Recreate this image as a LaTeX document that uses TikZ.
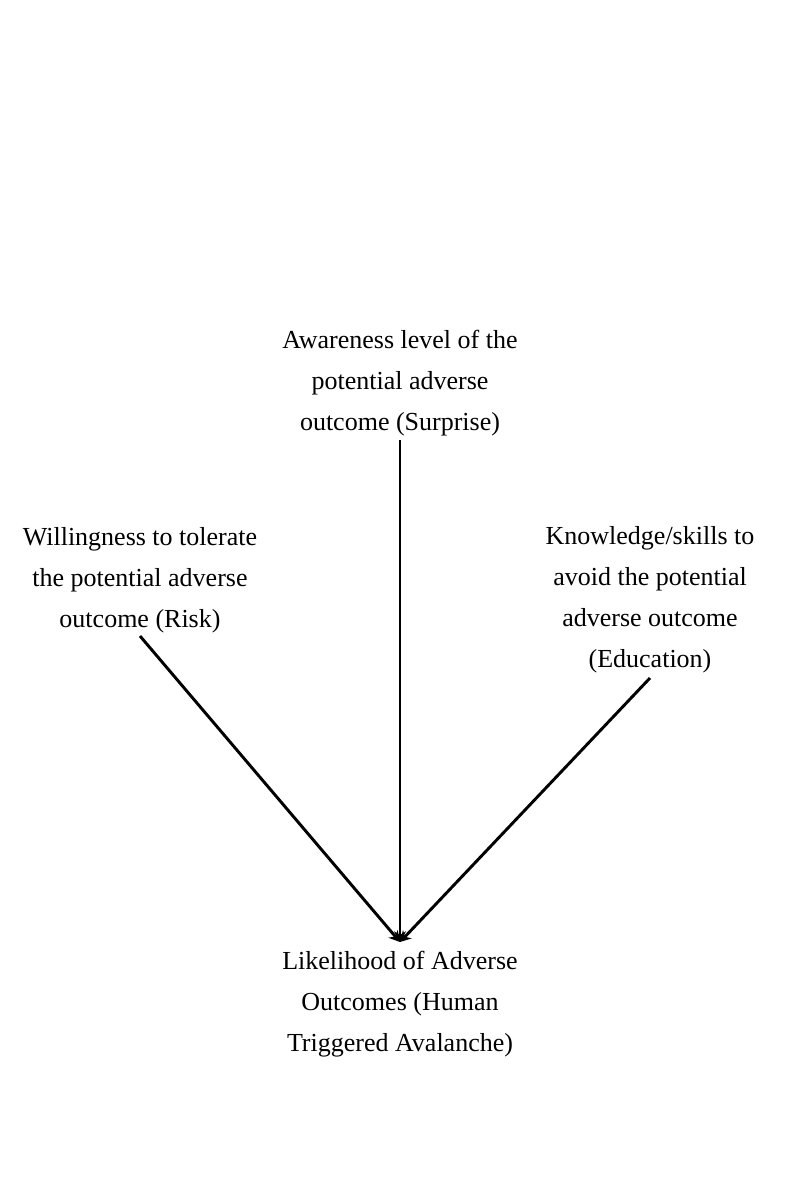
\documentclass[tikz,border=0pt]{standalone}
\usepackage{fontspec}
\setmainfont{Liberation Serif}
\usetikzlibrary{arrows.meta}
\begin{document}
\begin{tikzpicture}[x=0.75pt,y=-0.75pt,
  lbl/.style={align=center,inner sep=0pt,font=\fontsize{19.5pt}{30.75pt}\selectfont},
  conn/.style={line width=2.2pt,-{Stealth[length=8pt,width=9pt]}}]
\useasboundingbox (0,0) rectangle (800,1200);
\node[lbl] (top) at (400,383) {Awareness level of the\\potential adverse\\outcome (Surprise)};
\node[lbl] (left) at (140,580) {Willingness to tolerate\\the potential adverse\\outcome (Risk)};
\node[lbl] (right) at (650,600) {Knowledge/skills to\\avoid the potential\\adverse outcome\\(Education)};
\node[lbl] (bot) at (400,1004) {Likelihood of Adverse\\Outcomes (Human\\Triggered Avalanche)};
\coordinate (tip) at (400,942);
\coordinate (ts) at (400,440);
\coordinate (ls) at (140,636);
\coordinate (rs) at (650,678);
\draw[conn] (ts) -- (tip);
\draw[conn] (ls) -- (tip);
\draw[conn] (rs) -- (tip);
\end{tikzpicture}
\end{document}
